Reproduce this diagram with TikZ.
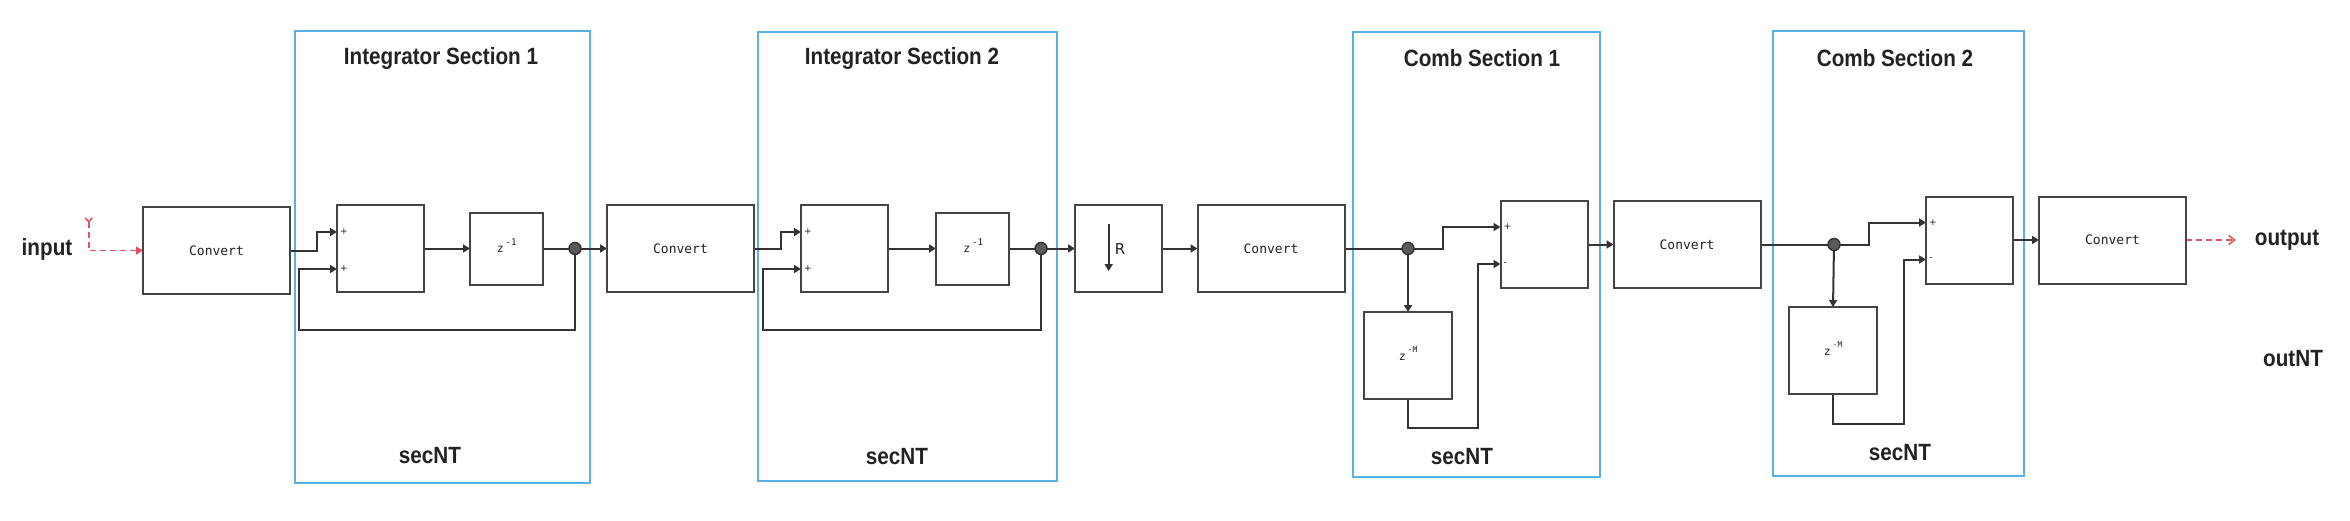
\documentclass[tikz,border=0pt]{standalone}
\usepackage{fontspec}
\setmainfont{Liberation Sans}
\newfontfamily\titlefont{Liberation Sans}[FakeStretch=0.88]
\newfontfamily\monofont{DejaVu Sans Mono}
\newfontfamily\symfont{DejaVu Sans}
\usetikzlibrary{arrows.meta}
\definecolor{linec}{HTML}{333333}
\definecolor{boxc}{HTML}{454545}
\definecolor{secblue}{HTML}{5AAFE3}
\definecolor{redc}{HTML}{E05563}
\definecolor{dotc}{HTML}{5A5A5A}
\definecolor{txtc}{HTML}{222222}
\pgfdeclarelayer{back}
\pgfdeclarelayer{wires}
\pgfsetlayers{back,wires,main}
\tikzset{
  blk/.style={draw=boxc, line width=1pt, fill=white, inner sep=0pt, outer sep=0pt},
  convbox/.style={blk, minimum width=73.5pt, minimum height=43.5pt, font=\monofont\fontsize{6.5pt}{7pt}\selectfont, text=txtc},
  sumbox/.style={blk, minimum width=43.5pt, minimum height=43.5pt},
  delaybox/.style={blk, minimum width=36.5pt, minimum height=36pt},
  combdelay/.style={blk, minimum width=44pt, minimum height=43.5pt},
  secbox/.style={draw=secblue, line width=0.85pt, inner sep=0pt, outer sep=0pt},
  sectitle/.style={font=\titlefont\bfseries\fontsize{11.75pt}{14pt}\selectfont, text=txtc, inner sep=0pt},
  wire/.style={draw=linec, line width=1pt},
  conn/.style={wire, -{Triangle[length=3.5pt,width=4pt]}},
  dotnode/.style={circle, draw=linec, fill=dotc, line width=0.7pt, minimum size=6pt, inner sep=0pt},
  sign/.style={font=\symfont\fontsize{4.6pt}{5pt}\selectfont, text=txtc, inner sep=0pt, anchor=west},
  reddash/.style={draw=redc, line width=0.8pt, dash pattern=on 3pt off 2pt},
  zlab/.style={font=\monofont\fontsize{5.8pt}{6pt}\selectfont, text=txtc, inner sep=0pt, anchor=base west},
  rlab/.style={font=\symfont\fontsize{7.5pt}{8pt}\selectfont, text=txtc, inner sep=0pt},
}
\begin{document}
\begin{tikzpicture}[x=0.5pt,y=-0.5pt]
\useasboundingbox (0,0) rectangle (2350,520);
\begin{pgfonlayer}{back}
\fill[white] (0,0) rectangle (2350,520);
\node[secbox, minimum width=147.5pt, minimum height=226pt] (sec1) at (442.5,257) {};
\node[secbox, minimum width=149.5pt, minimum height=224.5pt] (sec2) at (907.5,256.5) {};
\node[secbox, minimum width=123.5pt, minimum height=222.5pt] (sec3) at (1476.5,254.5) {};
\node[secbox, minimum width=125.5pt, minimum height=222.5pt] (sec4) at (1898.5,253.5) {};
\end{pgfonlayer}

% section labels
\node[sectitle] (t1) at (441,58) {Integrator Section 1};
\node[sectitle] (t2) at (902,58) {Integrator Section 2};
\node[sectitle] (t3) at (1482,58) {Comb Section 1};
\node[sectitle] (t4) at (1895,58) {Comb Section 2};
\node[sectitle] (n1) at (430,456) {secNT};
\node[sectitle] (n2) at (897,457) {secNT};
\node[sectitle] (n3) at (1462,457) {secNT};
\node[sectitle] (n4) at (1900,453) {secNT};
\node[sectitle] (in) at (47,249.5) {input};
\node[sectitle] (out) at (2287,240.5) {output};
\node[sectitle] (outnt) at (2293,359) {outNT};

% integrator 1
\node[convbox] (c1) at (216.5,250.5) {Convert};
\node[sumbox] (s1) at (380.5,248.5) {};
\node[sign] (s1p) at ([xshift=1.4pt,yshift=8.25pt]s1.west) {+};
\node[sign] (s1q) at ([xshift=1.4pt,yshift=-10.25pt]s1.west) {+};
\node[delaybox] (z1) at (506.5,248.5) {};
\node[zlab] (z1t) at (496.5,252.5) {z\kern0.9pt\raisebox{3.3pt}{\fontsize{4.6pt}{5pt}\selectfont-1}};
\node[dotnode] (d1) at (575,248.5) {};
\coordinate (fb1) at (299,330);

% integrator 2
\node[convbox] (c2) at (680.5,248.5) {Convert};
\node[sumbox] (s2) at (844.5,248.5) {};
\node[sign] (s2p) at ([xshift=1.4pt,yshift=8.25pt]s2.west) {+};
\node[sign] (s2q) at ([xshift=1.4pt,yshift=-10.25pt]s2.west) {+};
\node[delaybox] (z2) at (972.5,248.5) {};
\node[zlab] (z2t) at (963,252.5) {z\kern0.9pt\raisebox{3.3pt}{\fontsize{4.6pt}{5pt}\selectfont-1}};
\node[dotnode] (d2) at (1041,248.5) {};
\coordinate (fb2) at (763,330);

% downsampler
\node[sumbox] (rb) at (1118.5,248.5) {};
\node[rlab] (rt) at (1120,249) {R};
\coordinate (ra) at (1108.7,224);
\coordinate (rz) at (1108.7,271);
\node[convbox] (c3) at (1271,248.5) {Convert};

% comb 1
\node[dotnode] (d3) at (1408,248.5) {};
\node[sumbox] (s3) at (1544,244.5) {};
\node[sign] (s3p) at ([xshift=1.4pt,yshift=8.75pt]s3.west) {+};
\node[sign] (s3q) at ([xshift=1.4pt,yshift=-9.75pt]s3.west) {-};
\node[combdelay] (m1) at (1408,355.5) {};
\node[zlab] (m1t) at (1398.5,360) {z\kern0.9pt\raisebox{3.8pt}{\fontsize{4pt}{4.5pt}\selectfont-M}};
\coordinate (fb3) at (1478,428);
\node[convbox] (c4) at (1687,244.5) {Convert};

% comb 2
\node[dotnode] (d4) at (1834,244.5) {};
\node[sumbox] (s4) at (1969.5,240) {};
\node[sign] (s4p) at ([xshift=1.4pt,yshift=8.75pt]s4.west) {+};
\node[sign] (s4q) at ([xshift=1.4pt,yshift=-9.75pt]s4.west) {-};
\node[combdelay] (m2) at (1833,350.5) {};
\node[zlab] (m2t) at (1823.5,355) {z\kern0.9pt\raisebox{3.8pt}{\fontsize{4pt}{4.5pt}\selectfont-M}};
\coordinate (fb4) at (1904,424);
\node[convbox] (c5) at (2112.5,240) {Convert};

\coordinate (inY) at (88.7,217);
\coordinate (outEnd) at (2236,240);

% arrow inside the R block
\draw[conn] (ra) -- (rz);

\begin{pgfonlayer}{wires}
% input / output
\draw[reddash, {Straight Barb[reversed,length=2pt,width=3.5pt]}-{Triangle[length=3.5pt,width=4pt]}] (inY) |- (c1.west);
\draw[reddash, -{Straight Barb[length=3pt,width=4.5pt]}] (c5.east) -- (outEnd);
% integrator 1
\draw[conn] (c1.east) -- ++(27,0) |- (s1p.west -| s1.west);
\draw[conn] (s1.east) -- (z1.west);
\draw[wire] (z1.east) -- (d1.center);
\draw[conn] (d1.center) -- (c2.west);
\draw[conn] (d1.center) |- (fb1) |- (s1q.west -| s1.west);
% integrator 2
\draw[conn] (c2.east) -- ++(27,0) |- (s2p.west -| s2.west);
\draw[conn] (s2.east) -- (z2.west);
\draw[wire] (z2.east) -- (d2.center);
\draw[conn] (d2.center) -- (rb.west);
\draw[conn] (d2.center) |- (fb2) |- (s2q.west -| s2.west);
% downsampler
\draw[conn] (rb.east) -- (c3.west);
% comb 1
\draw[wire] (c3.east) -- (d3.center);
\draw[conn] (d3.center) -- ++(35,0) |- (s3p.west -| s3.west);
\draw[conn] (d3.center) -- (m1.north);
\draw[conn] (m1.south) |- (fb3) |- (s3q.west -| s3.west);
\draw[conn] (s3.east) -- (c4.west);
% comb 2
\draw[wire] (c4.east) -- (d4.center);
\draw[conn] (d4.center) -- ++(34.5,0) |- (s4p.west -| s4.west);
\draw[conn] (d4.center) -- (m2.north);
\draw[conn] (m2.south) |- (fb4) |- (s4q.west -| s4.west);
\draw[conn] (s4.east) -- (c5.west);
\end{pgfonlayer}
\end{tikzpicture}
\end{document}
